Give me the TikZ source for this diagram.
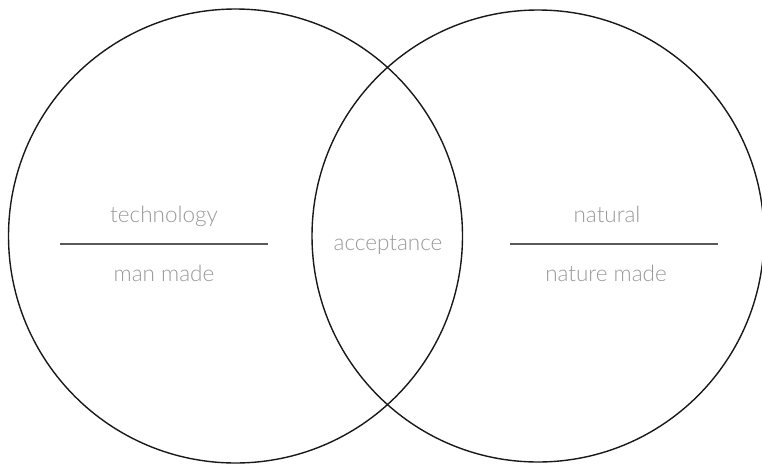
\documentclass[tikz,border=0pt]{standalone}
\usepackage{fontspec}
\setmainfont{Lato Light}
\begin{document}
\begin{tikzpicture}[x=1pt,y=-1pt,
  ring/.style={draw=black!90, line width=1.4pt},
  rule/.style={draw=black!65, line width=1.8pt},
  label/.style={text=black!40, font=\fontsize{22.5}{26}\selectfont, inner sep=0pt, anchor=base}]
  \useasboundingbox (0,0) rectangle (762,466);
  \clip (0,0) rectangle (762,466);
  % the two sets
  \node[ring, circle, minimum size=454pt, inner sep=0pt] (left) at (235.5,236) {};
  \node[ring, circle, minimum size=452pt, inner sep=0pt] (right) at (538,236) {};
  % left set labels
  \node[label] (tech) at (164,222) {technology};
  \coordinate (l1) at (60,244);
  \coordinate (l2) at (268,244);
  \draw[rule] (l1) -- (l2);
  \node[label] (man) at (164,281) {man made};
  % overlap
  \node[label] (acc) at (388,250) {acceptance};
  % right set labels
  \node[label] (nat) at (607,222) {natural};
  \coordinate (r1) at (510,244);
  \coordinate (r2) at (718,244);
  \draw[rule] (r1) -- (r2);
  \node[label] (nm) at (606,281) {nature made};
\end{tikzpicture}
\end{document}
